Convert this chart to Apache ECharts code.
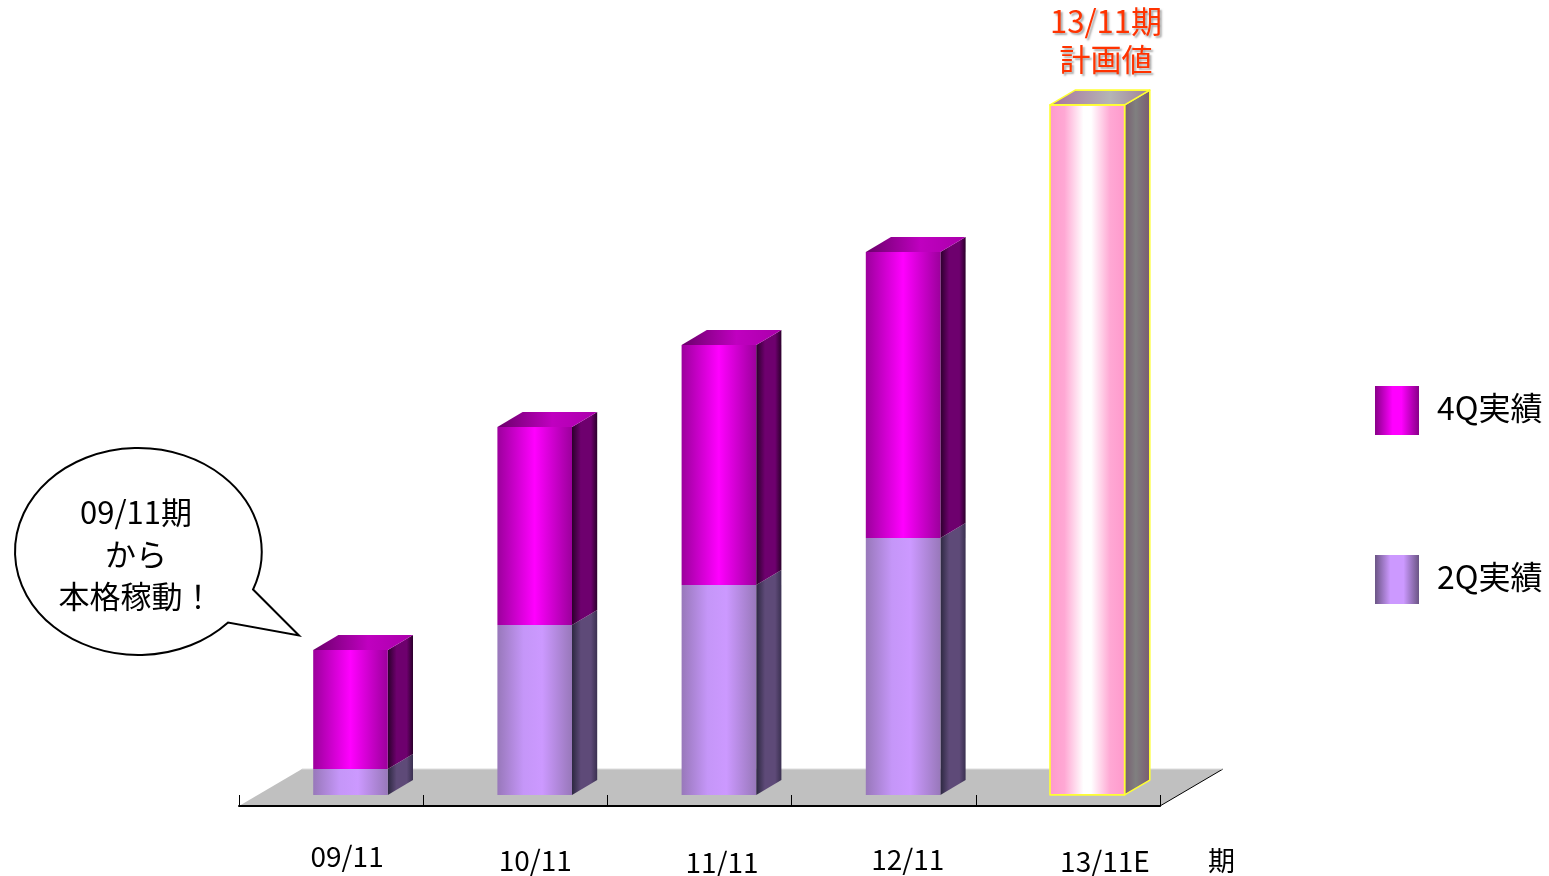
<!DOCTYPE html>
<html>
<head>
<meta charset="utf-8">
<style>html,body{margin:0;padding:0;background:#fff}#c{width:1549px;height:876px}</style>
<script src="https://cdn.jsdelivr.net/npm/echarts@6/dist/echarts.min.js"></script>
</head>
<body>
<div id="c"></div>
<script>
const categories = ['09/11', '10/11', '11/11', '12/11', '13/11E'];
const q2Values = [26, 170, 210, 257, null];
const q4Values = [119, 198, 240, 286, null];
const planValues = [null, null, null, null, 690];

const FONT = '"Noto Sans CJK JP","Noto Sans",sans-serif';
const G = (stops) => new echarts.graphic.LinearGradient(0, 0, 1, 0, stops.map((c, i) => ({offset: c[0], color: c[1]})));

const stylesQ2 = {
  front: G([[0, '#9878ba'], [0.35, '#c596f8'], [0.6, '#cc99ff'], [1, '#9878ba']]),
  side: G([[0, '#2c2840'], [0.35, '#5e4a78'], [0.75, '#5e4a78'], [1, '#3a3050']]),
  top: G([[0, '#6a5585'], [1, '#a080c8']])
};
const stylesQ4 = {
  front: G([[0, '#9c009c'], [0.5, '#ff00ff'], [1, '#9c009c']]),
  side: G([[0, '#2b002b'], [0.35, '#6e006e'], [0.75, '#6e006e'], [1, '#2b002b']]),
  top: G([[0, '#6a006a'], [0.55, '#c000c0'], [1, '#aa00aa']])
};
const stylesPlan = {
  front: G([[0, '#ff99cc'], [0.2, '#ffa8d4'], [0.45, '#ffffff'], [0.55, '#ffffff'], [0.8, '#ffa8d4'], [1, '#ff99cc']]),
  side: G([[0, '#775c70'], [0.45, '#808080'], [1, '#7a5a70']]),
  top: G([[0, '#a8709c'], [0.6, '#b5b5b5'], [1, '#a08098']])
};
const legendQ4 = G([[0, '#880088'], [0.4, '#ff00ff'], [0.6, '#ff00ff'], [1, '#880088']]);
const legendQ2 = G([[0, '#6b5585'], [0.35, '#cc99ff'], [0.65, '#cc99ff'], [1, '#6b5585']]);

// Oblique floor: bars stand 30% into the floor depth and are 40% of it deep.
const FLOOR_DX = 63, FLOOR_DY = -37;
const BAR_DEPTH = 0.4, BAR_POS = 0.3, BAR_W = 0.405;

function box(styles, showTop, border) {
  return function (params, api) {
    const base = api.value(1), top = api.value(2);
    if (top == null || isNaN(top)) return null;
    const band = api.size([1, 0])[0];
    const c0 = api.coord([api.value(0), base]);
    const c1 = api.coord([api.value(0), top]);
    const ox = FLOOR_DX * BAR_POS + 0.5, oy = FLOOR_DY * BAR_POS;
    const w = band * BAR_W;
    const dx = FLOOR_DX * BAR_DEPTH, dy = FLOOR_DY * BAR_DEPTH;
    const l = c0[0] + ox - w / 2, r = l + w, b = c0[1] + oy, t = c1[1] + oy;
    const st = (fill) => border
      ? {fill, stroke: border, lineWidth: 1.6, lineJoin: 'round'}
      : {fill};
    const kids = [
      {type: 'polygon', shape: {points: [[r, b], [r + dx, b + dy], [r + dx, t + dy], [r, t]]}, style: st(styles.side)},
      {type: 'polygon', shape: {points: [[l, b], [r, b], [r, t], [l, t]]}, style: st(styles.front)}
    ];
    if (showTop) kids.push({type: 'polygon', shape: {points: [[l, t], [r, t], [r + dx, t + dy], [l + dx, t + dy]]}, style: st(styles.top)});
    return {type: 'group', children: kids};
  };
}

function floor(params, api) {
  const band = api.size([1, 0])[0];
  const n = categories.length;
  const p0 = api.coord([0, 0]);
  const x0 = p0[0] - band / 2, x1 = x0 + band * n, y = p0[1];
  return {type: 'group', children: [
    {type: 'polygon', shape: {points: [[x0, y], [x1, y], [x1 + FLOOR_DX, y + FLOOR_DY], [x0 + FLOOR_DX, y + FLOOR_DY]]}, style: {fill: '#c0c0c0'}},
    {type: 'line', shape: {x1: x1, y1: y, x2: x1 + FLOOR_DX, y2: y + FLOOR_DY}, style: {stroke: '#000', lineWidth: 1}},
    {type: 'line', shape: {x1: x0 + FLOOR_DX, y1: y + FLOOR_DY, x2: x1 + FLOOR_DX, y2: y + FLOOR_DY}, style: {stroke: '#dddddd', lineWidth: 1}}
  ]};
}

function callout() {
  return {type: 'path',
    shape: {pathData: 'M253 589 L299 635 L228 622 A123.5 103.5 0 1 1 253 589 Z', x: 15, y: 448, width: 284, height: 207, layout: 'cover'},
    style: {fill: '#fff', stroke: '#000', lineWidth: 2}};
}

const q2Data = q2Values.map((v, i) => [i, 0, v]);
const q4Data = q4Values.map((v, i) => [i, q2Values[i], v == null ? null : q2Values[i] + v]);
const planData = planValues.map((v, i) => [i, 0, v]);

const labelShift = [[32, 0], [40, 4], [45, 6], [48, 3], [74, 5]];

const chart = echarts.init(document.getElementById('c'), null, {renderer: 'canvas'});
chart.setOption({
  animation: false,
  backgroundColor: '#ffffff',
  grid: {left: 239, right: 389, top: 106, bottom: 70, outerBoundsMode: 'none'},
  xAxis: {
    type: 'category',
    data: categories.map((c, i) => ({value: c, textStyle: {padding: [labelShift[i][1], 0, 0, labelShift[i][0]]}})),
    z: 5,
    axisLine: {lineStyle: {color: '#000', width: 2}},
    axisTick: {show: true, inside: true, length: 11, alignWithLabel: false, lineStyle: {color: '#000', width: 1}},
    axisLabel: {interval: 0, margin: 36, fontSize: 28, color: '#000', fontFamily: FONT, hideOverlap: false},
    name: '期',
    nameLocation: 'end',
    nameGap: 48,
    nameTextStyle: {fontSize: 27, color: '#000', fontFamily: FONT, verticalAlign: 'top', lineHeight: 110}
  },
  yAxis: {type: 'value', show: false, min: 0, max: 700, splitLine: {show: false}},
  legend: {
    orient: 'vertical', left: 1375, top: 386, padding: 0,
    itemWidth: 44, itemHeight: 49, itemGap: 120,
    icon: 'rect',
    formatter: '{a|{name}}',
    textStyle: {fontSize: 32, color: '#000', fontFamily: FONT, padding: [0, 0, 0, 13],
      rich: {a: {fontSize: 32, color: '#000', fontFamily: FONT, padding: [0, 0, 6, 0]}}},
    data: [
      {name: '4Q実績', icon: 'rect', itemStyle: {color: legendQ4}},
      {name: '2Q実績', icon: 'rect', itemStyle: {color: legendQ2}}
    ],
    selectedMode: false
  },
  series: [
    {type: 'custom', name: 'floor', z: 1, silent: true, data: [[0, 0]], renderItem: floor, clip: false},
    {type: 'custom', name: '2Q実績', z: 2, itemStyle: {color: legendQ2}, data: q2Data, renderItem: box(stylesQ2, false), encode: {x: 0, y: 2}, clip: false},
    {type: 'custom', name: '4Q実績', z: 3, itemStyle: {color: legendQ4}, data: q4Data, renderItem: box(stylesQ4, true), encode: {x: 0, y: 2}, clip: false},
    {type: 'custom', name: '計画値', z: 3, data: planData, renderItem: box(stylesPlan, true, '#ffff33'), encode: {x: 0, y: 2}, clip: false},
    {type: 'custom', name: 'callout', z: 9, silent: true, data: [[0, 0]], renderItem: callout, clip: false}
  ],
  graphic: [
    {type: 'text', z: 11, x: 136, y: 554,
      style: {text: '09/11期\nから\n本格稼動！', fill: '#000', fontSize: 31, lineHeight: 42, fontFamily: FONT, align: 'center', verticalAlign: 'middle'}},
    {type: 'text', z: 11, x: 1106, y: 40,
      style: {text: '13/11期\n計画値', fill: '#ff3300', fontSize: 31, lineHeight: 38, fontFamily: FONT, align: 'center', verticalAlign: 'middle',
        textShadowColor: '#aaaaaa', textShadowOffsetX: 2, textShadowOffsetY: 2, textShadowBlur: 2}}
  ]
});
</script>
</body>
</html>
